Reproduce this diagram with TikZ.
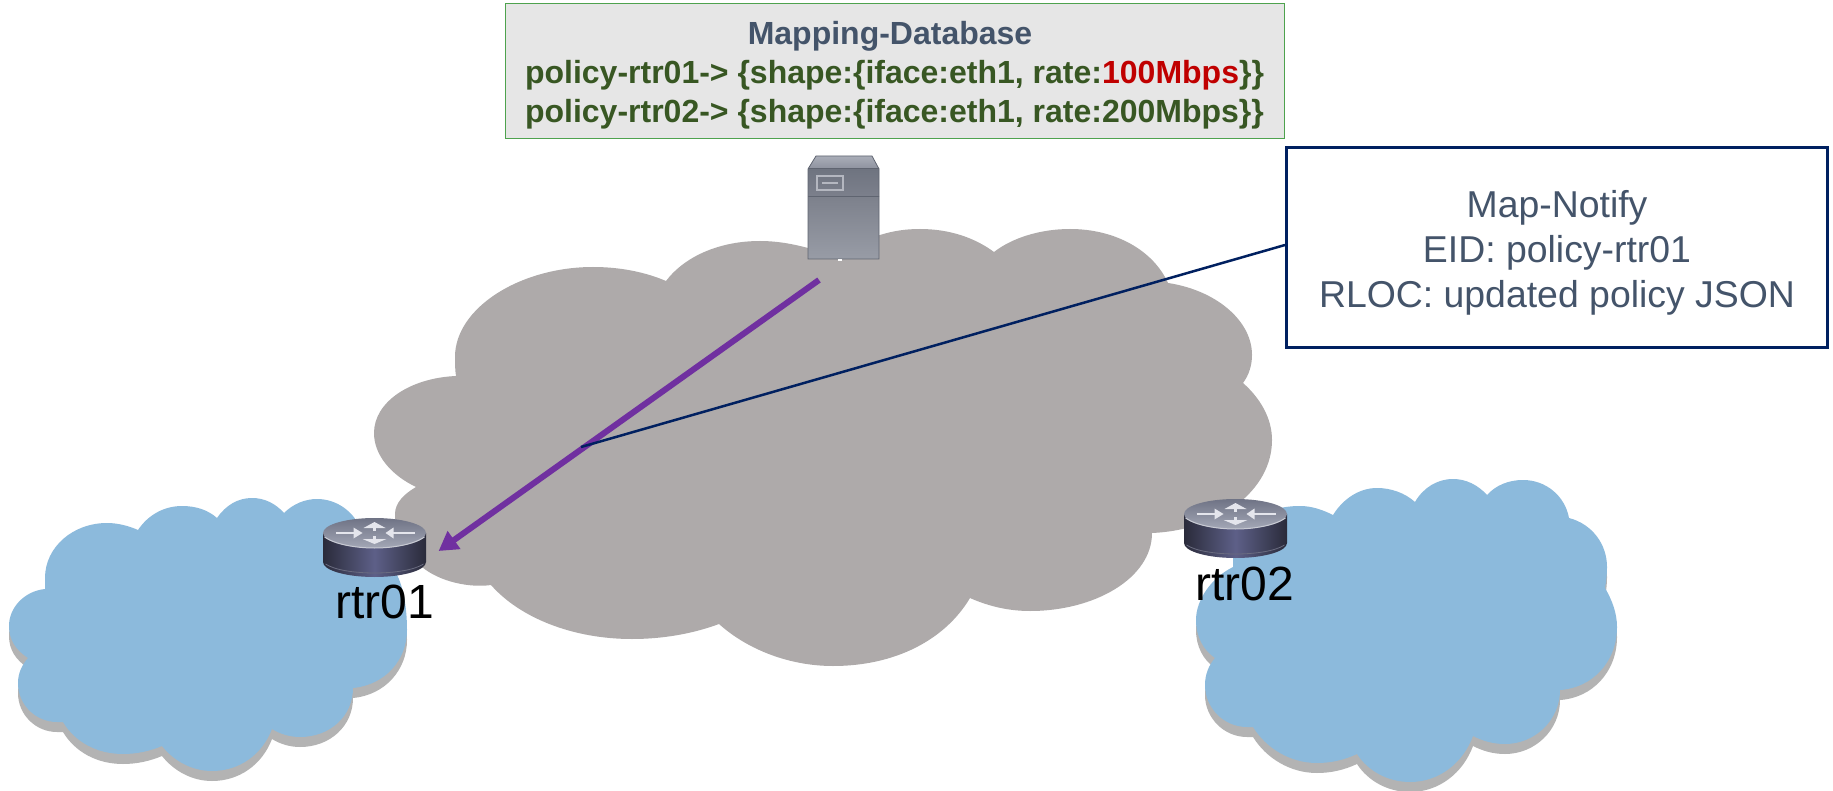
\documentclass[tikz,border=0pt]{standalone}
\usepackage{fontspec}
\setmainfont{Liberation Sans}
\usetikzlibrary{arrows.meta}
\definecolor{graycloud}{HTML}{AEAAAA}
\definecolor{bluecloud}{HTML}{8CBADC}
\definecolor{cloudshadow}{HTML}{B3B3B3}
\definecolor{slate}{HTML}{44546A}
\definecolor{navy}{HTML}{002060}
\definecolor{purpleline}{HTML}{7030A0}
\definecolor{dbgreen}{HTML}{385723}
\definecolor{dbborder}{HTML}{4EA24E}
\definecolor{dbfill}{HTML}{E6E6E6}
\definecolor{dbred}{HTML}{C00000}
\definecolor{rtrside}{HTML}{2A2B3A}
\definecolor{rtrmid}{HTML}{5E6088}
\definecolor{rtrtopa}{HTML}{6F7385}
\definecolor{rtrtopb}{HTML}{A3A7B6}
\definecolor{rtrlight}{HTML}{E4E5EC}
\definecolor{rtrrim}{HTML}{6A6C80}
\definecolor{srvtopa}{HTML}{A9ADB8}
\definecolor{srvtopb}{HTML}{8E929E}
\definecolor{srvupa}{HTML}{6F7480}
\definecolor{srvupb}{HTML}{7C808C}
\definecolor{srvloa}{HTML}{7D818C}
\definecolor{srvlob}{HTML}{989CA6}
\definecolor{srvedge}{HTML}{5F6470}
\definecolor{srvslot}{HTML}{B4B7C0}
\tikzset{
  dbbox/.style={draw=dbborder,fill=dbfill,line width=1.2pt,minimum width=779pt,minimum height=135pt,inner sep=0pt},
  dbtext/.style={inner sep=0pt,align=center,font=\fontsize{32}{39}\selectfont\bfseries},
  notifybox/.style={draw=navy,fill=white,line width=3pt,minimum width=541pt,minimum height=200pt,inner sep=0pt},
  notifytext/.style={inner sep=0pt,align=center,text=slate,font=\fontsize{37.4}{45}\selectfont},
  rtrlabel/.style={anchor=base,inner sep=0pt,text=black,font=\fontsize{48}{52}\selectfont},
  routerarrow/.style={fill=rtrlight,draw=none},
  routerline/.style={draw=rtrlight,line width=2.6pt},
  routericon/.pic={
    \shade[left color=rtrside,right color=rtrside,middle color=rtrmid]
      (-51.5,0) -- (-51.5,29) .. controls (-51.5,37.3) and (-28.4,44) .. (0,44) .. controls (28.4,44) and (51.5,37.3) .. (51.5,29) -- (51.5,0) -- cycle;
    \draw[rtrrim,line width=0.8pt] (-49,31) .. controls (-40,37) and (-20,40) .. (0,40) .. controls (20,40) and (40,37) .. (49,31);
    \shade[top color=rtrtopa,bottom color=rtrtopb] (0,0) ellipse [x radius=51.5,y radius=15];
    \draw[rtrtopb!60!white,line width=1pt] (-50,4) .. controls (-40,11) and (-20,15) .. (0,15) .. controls (20,15) and (40,11) .. (50,4);
    \draw[routerline] (-39,0) -- (-18,0);
    \fill[routerarrow] (-12,0) -- (-21,-5.5) -- (-21,5.5) -- cycle;
    \draw[routerline] (40,0) -- (18,0);
    \fill[routerarrow] (11,0) -- (19,-5.5) -- (19,5.5) -- cycle;
    \fill[routerarrow] (0,-11) -- (11,-5) -- (-11,-5) -- cycle;
    \draw[routerline] (0,-5) -- (0,-2);
    \fill[routerarrow] (0,11) -- (12,6) -- (-12,6) -- cycle;
    \draw[routerline] (0,3) -- (0,7);
  }
}
\newcommand{\graypath}{(456,376)
 .. controls (455,370) and (455,363) .. (455,357)
 .. controls (455,308) and (520,267) .. (593,267)
 .. controls (620,267) and (645,272) .. (666,281)
 .. controls (685,256) and (720,241) .. (760,241)
 .. controls (777,241) and (793,244) .. (808,248)
 -- (880,235)
 .. controls (893,231) and (905,229) .. (920,229)
 .. controls (950,229) and (975,238) .. (994,252)
 .. controls (1012,238) and (1040,229) .. (1070,229)
 .. controls (1115,229) and (1153,250) .. (1168,283)
 .. controls (1215,290) and (1252,320) .. (1252,355)
 .. controls (1252,365) and (1249,375) .. (1243,383)
 .. controls (1260,398) and (1272,418) .. (1272,440)
 .. controls (1272,490) and (1220,530) .. (1152,533)
 .. controls (1152,578) and (1095,611) .. (1030,611)
 .. controls (1008,611) and (988,606) .. (970,598)
 .. controls (945,640) and (895,666) .. (833,666)
 .. controls (790,666) and (748,650) .. (719,624)
 .. controls (692,634) and (662,639) .. (632,639)
 .. controls (573,639) and (520,618) .. (491,585)
 .. controls (470,588) and (440,582) .. (422,567)
 .. controls (405,553) and (395,535) .. (395,514)
 .. controls (395,503) and (404,494) .. (416,487)
 .. controls (391,475) and (374,455) .. (374,433)
 .. controls (374,402) and (410,378) .. (456,376) -- cycle}
\newcommand{\leftcloudpath}{(28,658)
 .. controls (16,650) and (9,640) .. (9,626)
 .. controls (9,607) and (25,591) .. (45,589)
 .. controls (45,585) and (45,582) .. (45,578)
 .. controls (45,547) and (73,523) .. (107,523)
 .. controls (118,523) and (129,526) .. (138,530)
 .. controls (148,515) and (164,506) .. (182,506)
 .. controls (196,506) and (208,510) .. (217,518)
 .. controls (226,505) and (238,498) .. (252,498)
 .. controls (264,498) and (275,503) .. (284,513)
 .. controls (293,504) and (305,499) .. (317,499)
 .. controls (337,499) and (355,512) .. (362,532)
 .. controls (380,540) and (392,560) .. (398,577)
 .. controls (404,590) and (407,610) .. (407,630)
 .. controls (407,660) and (385,685) .. (353,688)
 .. controls (353,716) and (330,737) .. (300,737)
 .. controls (290,737) and (280,734) .. (272,729)
 .. controls (262,755) and (239,771) .. (212,771)
 .. controls (192,771) and (174,761) .. (162,746)
 .. controls (150,751) and (137,754) .. (123,754)
 .. controls (97,754) and (75,742) .. (63,722)
 -- (57,722)
 .. controls (36,722) and (18,705) .. (18,683)
 .. controls (18,673) and (22,665) .. (28,658) -- cycle}
\newcommand{\rightcloudpath}{(1215,658)
 .. controls (1203,650) and (1196,636) .. (1196,620)
 .. controls (1196,600) and (1211,578) .. (1233,567)
 -- (1233,553)
 .. controls (1233,527) and (1262,506) .. (1300,506)
 .. controls (1312,506) and (1323,510) .. (1333,515)
 .. controls (1343,499) and (1359,488) .. (1377,488)
 .. controls (1391,488) and (1405,493) .. (1415,502)
 .. controls (1423,488) and (1437,479) .. (1453,479)
 .. controls (1466,479) and (1478,485) .. (1487,495)
 .. controls (1496,485) and (1509,480) .. (1523,480)
 .. controls (1546,480) and (1565,496) .. (1569,518)
 .. controls (1592,524) and (1607,544) .. (1607,567)
 .. controls (1607,575) and (1606,582) .. (1605,588)
 .. controls (1612,600) and (1617,613) .. (1617,627)
 .. controls (1617,662) and (1592,688) .. (1560,690)
 .. controls (1560,720) and (1535,744) .. (1505,744)
 .. controls (1493,744) and (1483,741) .. (1473,736)
 .. controls (1463,763) and (1439,782) .. (1410,782)
 .. controls (1388,782) and (1368,771) .. (1357,754)
 .. controls (1344,760) and (1331,763) .. (1317,763)
 .. controls (1290,763) and (1266,748) .. (1253,727)
 -- (1247,727)
 .. controls (1224,727) and (1205,708) .. (1205,685)
 .. controls (1205,674) and (1209,665) .. (1215,658) -- cycle}
\begin{document}
\begin{tikzpicture}[x=1pt,y=-1pt]
\useasboundingbox (0,0) rectangle (1833,791);
\fill[white] (0,0) rectangle (1833,791);
% clouds
\fill[graycloud] \graypath;
\fill[cloudshadow,shift={(0,10)}] \leftcloudpath;
\fill[bluecloud] \leftcloudpath;
\fill[cloudshadow,shift={(0,10)}] \rightcloudpath;
\fill[bluecloud] \rightcloudpath;
% server
\shade[top color=srvtopa,bottom color=srvtopb] (808,169) -- (816,156) -- (872,156) -- (879,169) -- cycle;
\shade[top color=srvupa,bottom color=srvupb] (808,169) rectangle (879,197);
\shade[top color=srvloa,bottom color=srvlob] (808,197) rectangle (879,259);
\draw[srvedge,line width=0.8pt] (808,169) -- (816,156) -- (872,156) -- (879,169) -- (879,259) -- (808,259) -- cycle;
\draw[srvedge,line width=1pt] (808,169) -- (879,169) (808,197) -- (879,197);
\draw[srvslot,line width=1.2pt] (817,176) rectangle (843,190);
\draw[srvslot,line width=1.2pt] (822,183) -- (838,183);
\fill[white] (838,259.5) rectangle (842,261);
% boxes
\node[dbbox] (db) at (895,71) {};
\node[dbtext] (dbcontent) at (894.5,75.5) {\hspace*{-9pt}\textcolor{slate}{Mapping-Database}\\
  \textcolor{dbgreen}{policy-rtr01-> \{shape:\{iface:eth1, rate:\textcolor{dbred}{100Mbps}\}\}}\\
  \textcolor{dbgreen}{policy-rtr02-> \{shape:\{iface:eth1, rate:200Mbps\}\}}};
\node[notifybox] (notify) at (1557,247.5) {};
\node[notifytext] (notifycontent) at (1557,253) {Map-Notify\\EID: policy-rtr01\\RLOC: updated policy JSON};
% connectors
\coordinate (purplestart) at (819,280);
\coordinate (purpletip) at (438.6,551);
\coordinate (notifyfoot) at (581,447);
\draw[purpleline,line width=6pt,-{Triangle[length=19pt,width=21pt]}] (purplestart) -- (purpletip);
\draw[navy,line width=2.5pt] ([yshift=2.5pt]notify.west) -- (notifyfoot);
% routers
\pic (router1) at (374.5,533) {routericon};
\pic (router2) at (1235.5,514) {routericon};
\node[rtrlabel] (rtr1) at (384.5,618.5) {rtr01};
\node[rtrlabel] (rtr2) at (1245,600.5) {rtr02};
\end{tikzpicture}
\end{document}
